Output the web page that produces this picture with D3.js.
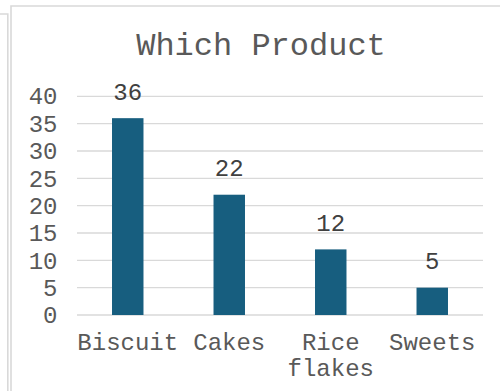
<!DOCTYPE html>
<html>
<head>
<meta charset="utf-8">
<script src="https://cdn.jsdelivr.net/npm/d3@7"></script>
<style>
  html, body { margin: 0; padding: 0; background: #fff; }
  svg { display: block; font-family: "Liberation Mono", monospace; }
</style>
</head>
<body>
<svg id="chart" width="500" height="391"></svg>
<script>
// Survey responses: which product is bought
const categories = ["Biscuit", "Cakes", "Rice flakes", "Sweets"];
const counts = [36, 22, 12, 5];
const yTicks = [0, 5, 10, 15, 20, 25, 30, 35, 40];
const title = "Which Product";

const svg = d3.select("#chart");
const W = 500, H = 391;
const plot = { left: 77, right: 483, top: 96.3, bottom: 315 };
const FS = 24;

// Frames of the stacked chart panels
svg.append("path")
  .attr("d", `M0,14 H7.8 V${H}`)
  .attr("fill", "none").attr("stroke", "#d9d9d9").attr("stroke-width", 1.6);
svg.append("path")
  .attr("d", `M11,${H} V6 H${W}`)
  .attr("fill", "none").attr("stroke", "#d9d9d9").attr("stroke-width", 1.6);

const x = d3.scaleBand().domain(categories).range([plot.left, plot.right]).paddingInner(0.69).paddingOuter(0.345);
const y = d3.scaleLinear().domain([0, 40]).range([plot.bottom, plot.top]);

// Horizontal gridlines
svg.append("g").selectAll("line").data(yTicks).join("line")
  .attr("x1", plot.left).attr("x2", plot.right)
  .attr("y1", d => y(d)).attr("y2", d => y(d))
  .attr("stroke", "#d9d9d9").attr("stroke-width", 1.3);

// Y axis labels
const yAxis = d3.axisLeft(y).tickValues(yTicks).tickSize(0).tickPadding(0);
const gy = svg.append("g").attr("transform", `translate(57.5,0)`).call(yAxis);
gy.select(".domain").remove();
gy.selectAll("text")
  .attr("font-family", "Liberation Mono, monospace")
  .attr("font-size", FS).attr("fill", "#595959");

// Bars
svg.append("g").selectAll("rect").data(counts).join("rect")
  .attr("x", (d, i) => x(categories[i]))
  .attr("width", x.bandwidth())
  .attr("y", d => y(d))
  .attr("height", d => y(0) - y(d))
  .attr("fill", "#175e7f");

// Value labels
svg.append("g").selectAll("text").data(counts).join("text")
  .attr("x", (d, i) => x(categories[i]) + x.bandwidth() / 2)
  .attr("y", d => y(d) - 18.5)
  .attr("text-anchor", "middle")
  .attr("font-size", FS).attr("fill", "#404040")
  .text(d => d);

// Category labels (wrapped on spaces when needed)
const xl = svg.append("g").selectAll("text").data(categories).join("text")
  .attr("text-anchor", "middle")
  .attr("font-size", FS).attr("fill", "#595959");
xl.each(function(c) {
  const t = d3.select(this);
  const words = c.split(" ");
  words.forEach((w, j) => {
    t.append("tspan")
      .attr("x", x(c) + x.bandwidth() / 2)
      .attr("y", 350 + j * 25.5)
      .text(w);
  });
});

// Title
svg.append("text")
  .attr("x", 261)
  .attr("y", 55)
  .attr("text-anchor", "middle")
  .attr("font-size", 32).attr("fill", "#595959")
  .text(title);
</script>
</body>
</html>
